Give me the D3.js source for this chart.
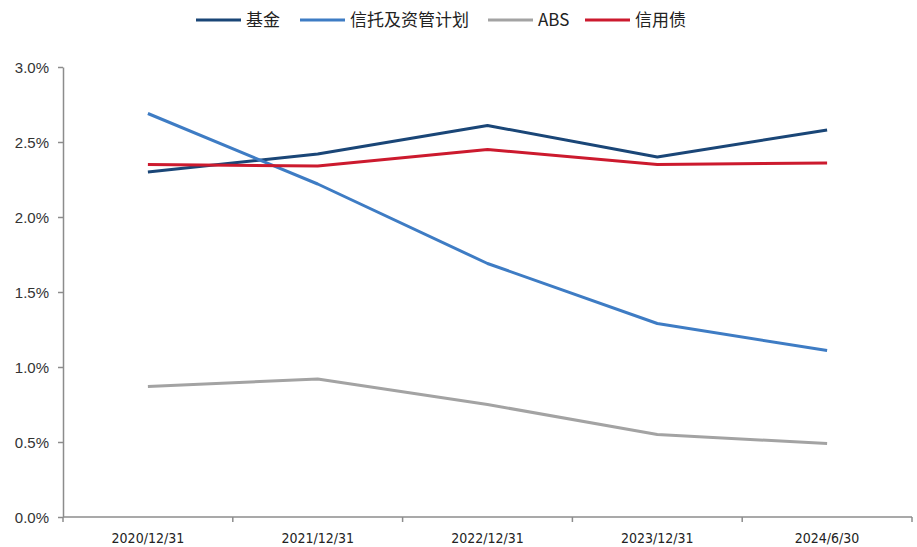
<!DOCTYPE html>
<html>
<head>
<meta charset="utf-8">
<script src="https://cdn.jsdelivr.net/npm/d3@7"></script>
<style>
  body { margin: 0; background: #fff; }
  svg { display: block; }
  .axis path, .axis line { stroke: #8c8c8c; stroke-width: 1.5; }
  .axis text { fill: #333; font-size: 15px; font-family: "Liberation Sans", Arial, sans-serif; }
  .axis.x text { font-family: "DejaVu Sans Condensed", "Liberation Sans", sans-serif; font-size: 14px; fill: #222; }
  .legend text { fill: #222; font-size: 17px; font-family: "Noto Sans CJK SC", sans-serif; }
</style>
</head>
<body>
<svg id="chart" width="917" height="547"></svg>
<script>
// data (percent)
var categories = ["2020/12/31", "2021/12/31", "2022/12/31", "2023/12/31", "2024/6/30"];
var seriesNames = ["基金", "信托及资管计划", "ABS", "信用债"];
var fund = [2.30, 2.42, 2.61, 2.40, 2.58];
var trust = [2.69, 2.22, 1.69, 1.29, 1.11];
var abs = [0.87, 0.92, 0.75, 0.55, 0.49];
var credit = [2.35, 2.34, 2.45, 2.35, 2.36];
var yTicks = [0, 0.5, 1.0, 1.5, 2.0, 2.5, 3.0];
var colors = ["#1a4677", "#3e7cc4", "#a3a3a3", "#cc1a2e"];

var series = [fund, trust, abs, credit];

var svg = d3.select("#chart");
var margin = { left: 63, right: 5, top: 67, bottom: 30 };
var W = 917, H = 547;

var x = d3.scaleBand()
    .domain(categories)
    .range([margin.left, W - margin.right])
    .padding(0);
var y = d3.scaleLinear()
    .domain([0, 3])
    .range([H - margin.bottom, margin.top]);

// y axis
var yAxis = svg.append("g")
    .attr("class", "axis")
    .attr("transform", "translate(" + margin.left + ",0)")
    .call(d3.axisLeft(y).tickValues(yTicks).tickSize(5).tickSizeOuter(0)
        .tickFormat(function(d) { return d.toFixed(1) + "%"; }));
yAxis.selectAll("text").attr("x", -14).attr("dy", "0.35em");

// x axis with ticks at category boundaries
var xg = svg.append("g")
    .attr("class", "axis x")
    .attr("transform", "translate(0," + y(0) + ")");
xg.append("line")
    .attr("x1", margin.left).attr("x2", W - margin.right)
    .attr("y1", 0).attr("y2", 0);
var bounds = categories.map(function(c) { return x(c); }).concat([W - margin.right]);
xg.selectAll("line.tk")
    .data(bounds)
    .enter().append("line")
    .attr("class", "tk")
    .attr("x1", function(d) { return d; }).attr("x2", function(d) { return d; })
    .attr("y1", 0).attr("y2", 5);
xg.selectAll("text")
    .data(categories)
    .enter().append("text")
    .attr("x", function(d) { return x(d) + x.bandwidth() / 2; })
    .attr("y", 26)
    .attr("text-anchor", "middle")
    .text(function(d) { return d; });

// lines
var line = d3.line()
    .x(function(d, i) { return x(categories[i]) + x.bandwidth() / 2; })
    .y(function(d) { return y(d); });

svg.selectAll("path.series")
    .data(series)
    .enter().append("path")
    .attr("class", "series")
    .attr("fill", "none")
    .attr("stroke", function(d, i) { return colors[i]; })
    .attr("stroke-width", 3)
    .attr("stroke-linejoin", "round")
    .attr("d", line);

// legend
var legendX = [196, 300, 488, 585];
var lg = svg.append("g").attr("class", "legend");
var item = lg.selectAll("g")
    .data(seriesNames)
    .enter().append("g")
    .attr("transform", function(d, i) { return "translate(" + legendX[i] + ",20)"; });
item.append("line")
    .attr("x1", 0).attr("x2", 45)
    .attr("stroke", function(d, i) { return colors[i]; })
    .attr("stroke-width", 3);
item.append("text")
    .attr("x", 50)
    .attr("dy", "0.35em")
    .text(function(d) { return d; });
</script>
</body>
</html>
